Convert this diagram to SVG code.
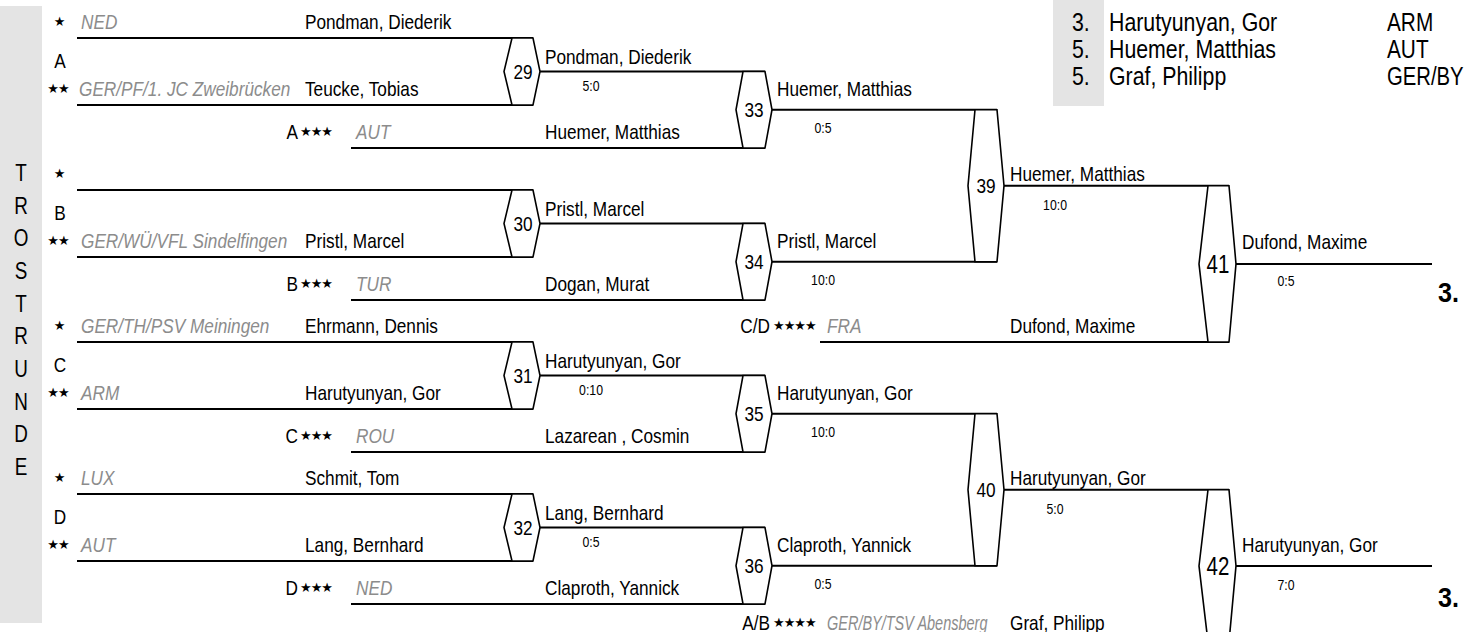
<svg xmlns="http://www.w3.org/2000/svg" width="1474" height="632" viewBox="0 0 1474 632">
<style>
text{font-family:"Liberation Sans",Arial,sans-serif;font-size:21px;fill:#000}
.c{font-style:italic;fill:#8c8c8c}
.s{font-size:15px}
.m{text-anchor:middle}
.e{text-anchor:end}
text.st{font-family:"DejaVu Sans",sans-serif;font-size:13px;letter-spacing:-1px}
.big{font-size:25px}
.lg{font-size:26px}
.b3{font-size:28px;font-weight:bold}
.side{font-size:23px}
.ln{stroke:#000;stroke-width:2;fill:none}
.hx{stroke:#000;stroke-width:1.6;fill:#fff}
.bg{fill:#e4e4e4}
</style>
<rect class="bg" x="0" y="6" width="42" height="617"/>
<g id="side-label">
<text class="side m" transform="translate(21 181) scale(.82 1)">T</text>
<text class="side m" transform="translate(21 214) scale(.82 1)">R</text>
<text class="side m" transform="translate(21 246) scale(.82 1)">O</text>
<text class="side m" transform="translate(21 279) scale(.82 1)">S</text>
<text class="side m" transform="translate(21 312) scale(.82 1)">T</text>
<text class="side m" transform="translate(21 344) scale(.82 1)">R</text>
<text class="side m" transform="translate(21 377) scale(.82 1)">U</text>
<text class="side m" transform="translate(21 410) scale(.82 1)">N</text>
<text class="side m" transform="translate(21 442) scale(.82 1)">D</text>
<text class="side m" transform="translate(21 475) scale(.82 1)">E</text>
</g>
<g id="legend">
<rect class="bg" x="1053" y="-2" width="51" height="108"/>
<text class="lg" transform="translate(1072 31) scale(.82 1)">3.</text><text class="lg" transform="translate(1109 31) scale(.82 1)">Harutyunyan, Gor</text><text class="lg" transform="translate(1387 31) scale(.8 1)">ARM</text>
<text class="lg" transform="translate(1072 58) scale(.82 1)">5.</text><text class="lg" transform="translate(1109 58) scale(.82 1)">Huemer, Matthias</text><text class="lg" transform="translate(1387 58) scale(.8 1)">AUT</text>
<text class="lg" transform="translate(1072 85) scale(.82 1)">5.</text><text class="lg" transform="translate(1109 85) scale(.82 1)">Graf, Philipp</text><text class="lg" transform="translate(1387 85) scale(.78 1)">GER/BY</text>
</g>
<g id="connectors">
<path class="ln" d="M77 38H533M77 105H533M351 148H765M540 71.5H765M772 109.75H997"/>
<path class="ln" d="M77 190H533M77 257H533M351 300H765M540 223.5H765M772 261.75H997"/>
<path class="ln" d="M77 342H533M77 409H533M351 452H765M540 375.5H765M772 413.75H997"/>
<path class="ln" d="M77 494H533M77 561H533M351 604H765M540 527.5H765M772 565.75H997"/>
<path class="ln" d="M1004 185.75H1229M1004 489.75H1229M820 342H1229M820 642H1229M1236 263.9H1432M1236 565.9H1432"/>
</g>
<g id="group-A">
<text class="st m" x="59" y="26">★</text><text class="c" transform="translate(81 29) scale(.82 1)">NED</text><text transform="translate(305 29) scale(.82 1)">Pondman, Diederik</text>
<text class="m" transform="translate(60 67.5) scale(.82 1)">A</text>
<text class="st m" x="58" y="93">★★</text><text class="c" transform="translate(79 96) scale(.82 1)">GER/PF/1. JC Zweibrücken</text><text transform="translate(305 96) scale(.82 1)">Teucke, Tobias</text>
<text class="e" transform="translate(298 139) scale(.82 1)">A</text><text class="st" x="300" y="136">★★★</text><text class="c" transform="translate(356 139) scale(.82 1)">AUT</text><text transform="translate(545 139) scale(.82 1)">Huemer, Matthias</text>
</g>
<g id="group-B">
<text class="st m" x="59" y="178">★</text>
<text class="m" transform="translate(60 219.5) scale(.82 1)">B</text>
<text class="st m" x="58" y="245">★★</text><text class="c" transform="translate(81 248) scale(.82 1)">GER/WÜ/VFL Sindelfingen</text><text transform="translate(305 248) scale(.82 1)">Pristl, Marcel</text>
<text class="e" transform="translate(298 291) scale(.82 1)">B</text><text class="st" x="300" y="288">★★★</text><text class="c" transform="translate(356 291) scale(.82 1)">TUR</text><text transform="translate(545 291) scale(.82 1)">Dogan, Murat</text>
</g>
<g id="group-C">
<text class="st m" x="59" y="330">★</text><text class="c" transform="translate(81 333) scale(.82 1)">GER/TH/PSV Meiningen</text><text transform="translate(305 333) scale(.82 1)">Ehrmann, Dennis</text>
<text class="m" transform="translate(60 371.5) scale(.82 1)">C</text>
<text class="st m" x="58" y="397">★★</text><text class="c" transform="translate(81 400) scale(.82 1)">ARM</text><text transform="translate(305 400) scale(.82 1)">Harutyunyan, Gor</text>
<text class="e" transform="translate(298 443) scale(.82 1)">C</text><text class="st" x="300" y="440">★★★</text><text class="c" transform="translate(356 443) scale(.82 1)">ROU</text><text transform="translate(545 443) scale(.82 1)">Lazarean , Cosmin</text>
</g>
<g id="group-D">
<text class="st m" x="59" y="482">★</text><text class="c" transform="translate(81 485) scale(.82 1)">LUX</text><text transform="translate(305 485) scale(.82 1)">Schmit, Tom</text>
<text class="m" transform="translate(60 523.5) scale(.82 1)">D</text>
<text class="st m" x="58" y="549">★★</text><text class="c" transform="translate(81 552) scale(.82 1)">AUT</text><text transform="translate(305 552) scale(.82 1)">Lang, Bernhard</text>
<text class="e" transform="translate(298 595) scale(.82 1)">D</text><text class="st" x="300" y="592">★★★</text><text class="c" transform="translate(356 595) scale(.82 1)">NED</text><text transform="translate(545 595) scale(.82 1)">Claproth, Yannick</text>
</g>
<g id="entry-CD">
<text class="e" transform="translate(770 333) scale(.82 1)">C/D</text><text class="st" x="773" y="330">★★★★</text><text class="c" transform="translate(827 333) scale(.82 1)">FRA</text><text transform="translate(1010 333) scale(.82 1)">Dufond, Maxime</text>
</g>
<g id="entry-AB">
<text class="e" transform="translate(770 630) scale(.82 1)">A/B</text><text class="st" x="773" y="627">★★★★</text><text class="c" transform="translate(827 630) scale(.69 1)">GER/BY/TSV Abensberg</text><text transform="translate(1010 630) scale(.82 1)">Graf, Philipp</text>
</g>
<g id="m29"><polygon class="hx" points="512,38 533,38 540,71.5 533,105 512,105 504,71.5"/><text class="m" transform="translate(523 79) scale(.82 1)">29</text><text transform="translate(545 63.5) scale(.82 1)">Pondman, Diederik</text><text class="s m" transform="translate(591 90.5) scale(.82 1)">5:0</text></g>
<g id="m30"><polygon class="hx" points="512,190 533,190 540,223.5 533,257 512,257 504,223.5"/><text class="m" transform="translate(523 231) scale(.82 1)">30</text><text transform="translate(545 215.5) scale(.82 1)">Pristl, Marcel</text></g>
<g id="m31"><polygon class="hx" points="512,342 533,342 540,375.5 533,409 512,409 504,375.5"/><text class="m" transform="translate(523 383) scale(.82 1)">31</text><text transform="translate(545 367.5) scale(.82 1)">Harutyunyan, Gor</text><text class="s m" transform="translate(591 394.5) scale(.82 1)">0:10</text></g>
<g id="m32"><polygon class="hx" points="512,494 533,494 540,527.5 533,561 512,561 504,527.5"/><text class="m" transform="translate(523 535) scale(.82 1)">32</text><text transform="translate(545 519.5) scale(.82 1)">Lang, Bernhard</text><text class="s m" transform="translate(591 546.5) scale(.82 1)">0:5</text></g>
<g id="m33"><polygon class="hx" points="743,71.5 765,71.5 772,109.75 765,148 743,148 736,109.75"/><text class="m" transform="translate(754 117) scale(.82 1)">33</text><text transform="translate(777 95.5) scale(.82 1)">Huemer, Matthias</text><text class="s m" transform="translate(823 133) scale(.82 1)">0:5</text></g>
<g id="m34"><polygon class="hx" points="743,223.5 765,223.5 772,261.75 765,300 743,300 736,261.75"/><text class="m" transform="translate(754 269) scale(.82 1)">34</text><text transform="translate(777 247.5) scale(.82 1)">Pristl, Marcel</text><text class="s m" transform="translate(823 285) scale(.82 1)">10:0</text></g>
<g id="m35"><polygon class="hx" points="743,375.5 765,375.5 772,413.75 765,452 743,452 736,413.75"/><text class="m" transform="translate(754 421) scale(.82 1)">35</text><text transform="translate(777 399.5) scale(.82 1)">Harutyunyan, Gor</text><text class="s m" transform="translate(823 437) scale(.82 1)">10:0</text></g>
<g id="m36"><polygon class="hx" points="743,527.5 765,527.5 772,565.75 765,604 743,604 736,565.75"/><text class="m" transform="translate(754 573) scale(.82 1)">36</text><text transform="translate(777 551.5) scale(.82 1)">Claproth, Yannick</text><text class="s m" transform="translate(823 589) scale(.82 1)">0:5</text></g>
<g id="m39"><polygon class="hx" points="975,109.75 997,109.75 1004,185.75 997,261.75 975,261.75 968,185.75"/><text class="m" transform="translate(986 193) scale(.82 1)">39</text><text transform="translate(1010 181) scale(.82 1)">Huemer, Matthias</text><text class="s m" transform="translate(1055 210) scale(.82 1)">10:0</text></g>
<g id="m40"><polygon class="hx" points="975,413.75 997,413.75 1004,489.75 997,565.75 975,565.75 968,489.75"/><text class="m" transform="translate(986 497) scale(.82 1)">40</text><text transform="translate(1010 485) scale(.82 1)">Harutyunyan, Gor</text><text class="s m" transform="translate(1055 514) scale(.82 1)">5:0</text></g>
<g id="m41"><polygon class="hx" points="1208,185.75 1229,185.75 1236,263.9 1229,342 1208,342 1199,263.9"/><text class="big m" transform="translate(1218 273) scale(.82 1)">41</text><text transform="translate(1242 249) scale(.82 1)">Dufond, Maxime</text><text class="s m" transform="translate(1286 285.5) scale(.82 1)">0:5</text><text class="b3" transform="translate(1438 302) scale(.9 1)">3.</text></g>
<g id="m42"><polygon class="hx" points="1208,489.75 1229,489.75 1236,565.9 1229,642 1208,642 1199,565.9"/><text class="big m" transform="translate(1218 575) scale(.82 1)">42</text><text transform="translate(1242 552) scale(.82 1)">Harutyunyan, Gor</text><text class="s m" transform="translate(1286 590) scale(.82 1)">7:0</text><text class="b3" transform="translate(1438 607) scale(.9 1)">3.</text></g>
</svg>
